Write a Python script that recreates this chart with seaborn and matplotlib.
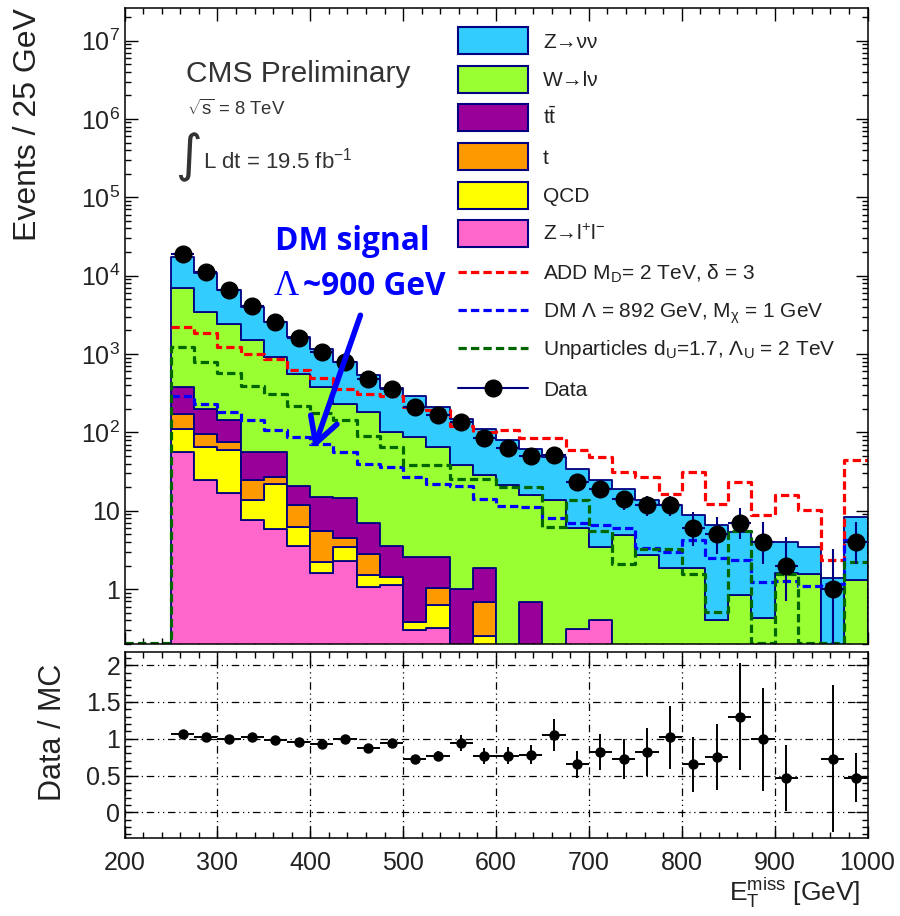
import numpy as np
import pandas as pd
import matplotlib
matplotlib.use('Agg')
import matplotlib.pyplot as plt
import matplotlib.font_manager as fm
from matplotlib.patches import Rectangle
from matplotlib.lines import Line2D
from matplotlib.ticker import MultipleLocator, LogLocator, FixedLocator, NullFormatter
import seaborn as sns

sns.set_theme(style='ticks')
names = {f.name for f in fm.fontManager.ttflist}
FONT = 'Liberation Sans' if 'Liberation Sans' in names else 'DejaVu Sans'
plt.rcParams['font.family'] = [FONT, 'DejaVu Sans']
plt.rcParams['mathtext.fontset'] = 'custom'
plt.rcParams['mathtext.rm'] = FONT
plt.rcParams['mathtext.it'] = FONT + ':italic'
plt.rcParams['mathtext.bf'] = FONT + ':bold'

# ---- data (25 GeV bins, 250 - 1000 GeV) ----
centers = np.arange(262.5, 1000, 25)

znn   = [10600, 7400, 4150, 2480, 1680, 1090, 770, 568, 357, 269, 202, 145, 112, 83.6, 59.5,
         46.2, 34.3, 28.5, 21.2, 13.9, 11.0, 10.2, 7.0, 6.1, 4.6, 3.6, 2.4, 1.95, 1.38, 7.0]
wln   = [6520, 3240, 2310, 1444, 862, 542, 365, 218, 176, 97.4, 85.4, 62.4, 37, 26.6, 21.5,
         15.1, 13.7, 5.8, 3.0, 4.9, 2.7, 1.84, 1.84, 0.40, 0.84, 0.43, 1.6, 1.55, 0, 1.3]
ttbar = [205, 104, 68, 31.4, 29, 9.2, 9.4, 9.9, 4.05, 2.17, 2.22, 1.57, 1.0, 1.16, 0,
         0.69, 0, 0, 0, 0, 0, 0, 0, 0, 0, 0, 0, 0, 0, 0]
stop  = [62, 31, 15, 10.7, 4.8, 5.6, 3.4, 1.0, 1.35, 0, 0, 0.40, 0, 0.44, 0,
         0, 0, 0, 0, 0, 0, 0, 0, 0, 0, 0, 0, 0, 0, 0]
qcd   = [55, 40, 43, 6.3, 16.3, 2.6, 0.6, 1.2, 0.43, 0.31, 0.08, 0.31, 0, 0.25, 0,
         0, 0, 0, 0, 0, 0, 0, 0, 0, 0, 0, 0, 0, 0, 0]
zll   = [56, 24.5, 17, 7.6, 5.9, 3.6, 1.6, 2.3, 1.07, 1.12, 0.30, 0.32, 0, 0, 0,
         0, 0, 0.31, 0.41, 0, 0, 0, 0, 0, 0, 0, 0, 0, 0, 0]

sig_add = [2240, 1830, 1220, 990, 870, 620, 500, 362, 307, 290, 211, 192, 120, 101, 107,
           86, 86, 59, 49, 31, 27, 16.6, 31, 12.4, 23.4, 8.8, 15.8, 10.2, 2.34, 44]
sig_dm  = [296, 233, 183, 143, 107, 88, 72, 56, 40, 36, 27, 22, 21, 14.3, 11.4,
           11.2, 8.0, 6.9, 6.5, 6.0, 3.4, 3.0, 4.2, 2.5, 2.34, 1.24, 1.27, 1.1, 1.15, 4.2]
# unparticles histogram starts at 200 GeV (empty bins sit on the axis floor)
centers_unp = np.arange(212.5, 1000, 25)
sig_unp = [0.205, 0.205, 1230, 790, 570, 395, 310, 215, 175, 145, 90, 65, 38, 38, 25.8, 25.8,
           20, 20, 6.2, 13.7, 5.6, 2.1, 3.3, 3.3, 1.58, 0.51, 5.5, 0.205, 1.58, 0.205, 0.205, 2.2]

data = [18800, 11100, 6650, 4070, 2570, 1580, 1065, 795, 487, 362, 211, 166, 136, 84, 63,
        50, 51, 23, 19, 14, 12, 12, 6, 5, 7, 4, 2, np.nan, 1, 4]
data_lo = [137, 105, 82, 64, 51, 40, 33, 28, 22, 19, 14.5, 12.9, 11.7, 9.2, 7.9,
           7.1, 7.1, 4.8, 4.4, 3.7, 3.5, 3.5, 2.4, 2.2, 2.6, 1.9, 1.3, 0, 0.8, 1.9]
data_hi = [137, 105, 82, 64, 51, 40, 33, 28, 22, 19, 14.5, 12.9, 11.7, 9.2, 7.9,
           7.1, 7.1, 4.8, 4.4, 3.7, 3.5, 3.5, 3.6, 3.4, 3.8, 3.2, 2.6, 0, 2.3, 3.2]

ratio = [1.07, 1.02, 1.0, 1.02, 0.98, 0.95, 0.93, 1.0, 0.88, 0.94, 0.72, 0.77, 0.94, 0.77, 0.77,
         0.78, 1.05, 0.65, 0.82, 0.72, 0.82, 1.02, 0.65, 0.75, 1.3, 0.99, 0.47, np.nan, 0.73, 0.47]
ratio_err = [0.02, 0.02, 0.02, 0.02, 0.025, 0.03, 0.035, 0.04, 0.045, 0.055, 0.06, 0.07, 0.11, 0.11, 0.12,
             0.13, 0.22, 0.19, 0.25, 0.27, 0.32, 0.43, 0.37, 0.45, 0.73, 0.7, 0.45, np.nan, 1.0, 0.33]

procs = ['Z→νν', 'W→lν', 'tt', 't', 'QCD', 'Z→ll']
colors = ['#33ccff', '#99ff33', '#990099', '#ff9900', '#ffff00', '#ff66cc']
proc_labels = ['Z→νν', 'W→lν', r'$\mathrm{t}\bar{\mathrm{t}}$', 't', 'QCD', r'Z→l$^{+}$l$^{-}$']
sig_labels = [r'ADD M$_{\mathrm{D}}$= 2 TeV, δ = 3',
              r'DM Λ = 892 GeV, M$_{\mathrm{χ}}$ = 1 GeV',
              r'Unparticles d$_{\mathrm{U}}$=1.7, Λ$_{\mathrm{U}}$ = 2 TeV']
sig_colors = ['#ff0000', '#0000ff', '#006600']
OUTLINE = '#000080'
TXT = '#222222'

df = pd.DataFrame({
    'met': np.tile(centers, len(procs)),
    'events': np.concatenate([znn, wln, ttbar, stop, qcd, zll]),
    'proc': np.repeat(procs, len(centers)),
})

W, H = 900, 916
def fx(x): return x / W
def fy(y): return 1 - y / H

fig = plt.figure(figsize=(9, 9.16), dpi=100)
ax = fig.add_axes([fx(124.5), fy(644), fx(867.5) - fx(124.5), fy(8) - fy(644)])
ax2 = fig.add_axes([fx(124.5), fy(838), fx(867.5) - fx(124.5), fy(652) - fy(838)])

# stacked backgrounds (first hue level ends up on top)
sns.histplot(df, x='met', weights='events', hue='proc', hue_order=procs,
             palette=dict(zip(procs, colors)), binwidth=25, binrange=(250, 1000),
             multiple='stack', element='step', alpha=1, edgecolor=OUTLINE,
             linewidth=1.3, legend=False, ax=ax)

dash = (0, (2.6, 1.3))
sns.histplot(x=centers, weights=sig_add, binwidth=25, binrange=(250, 1000), element='step',
             fill=False, color=sig_colors[0], linestyle=dash, linewidth=2.3, ax=ax)
sns.histplot(x=centers, weights=sig_dm, binwidth=25, binrange=(250, 1000), element='step',
             fill=False, color=sig_colors[1], linestyle=dash, linewidth=2.3, ax=ax)
sns.histplot(x=centers_unp, weights=sig_unp, binwidth=25, binrange=(200, 1000), element='step',
             fill=False, color=sig_colors[2], linestyle=dash, linewidth=2.3, ax=ax)

ax.errorbar(centers, data, yerr=[data_lo, data_hi], xerr=12.5, fmt='o', ms=12,
            mfc='black', mec='black', ecolor=OUTLINE, elinewidth=1.5, capsize=0, zorder=10)

ax.set_yscale('log')
ax.set_xlim(200, 1000)
ax.set_ylim(0.2, 2.6e7)
ax.set_xlabel('')
ax.set_ylabel('Events / 25 GeV', fontsize=23, loc='top', color=TXT)
ax.yaxis.set_label_coords(-0.11, 1.0)

ax.xaxis.set_major_locator(MultipleLocator(100))
ax.xaxis.set_minor_locator(MultipleLocator(20))
ax.tick_params(axis='x', labelbottom=False)
ax.yaxis.set_major_locator(FixedLocator([10.0 ** k for k in range(0, 8)]))
ax.set_yticklabels(['1', '10'] + [r'$\mathrm{10^{%d}}$' % k for k in range(2, 8)])
ax.yaxis.set_minor_locator(LogLocator(base=10, subs=np.arange(2, 10), numticks=100))
ax.yaxis.set_minor_formatter(NullFormatter())

for a in (ax, ax2):
    a.tick_params(which='both', direction='in', top=True, right=True, width=1.0,
                  colors='black', labelcolor=TXT, labelsize=18)
    a.tick_params(which='major', length=9)
    a.tick_params(which='minor', length=4.5)
    a.tick_params(axis='y', pad=3)
    for s in a.spines.values():
        s.set_linewidth(1.1)
        s.set_color('black')

# legend, drawn row by row like the ROOT legend
rows_y = [40, 79, 117, 156, 195, 233, 272, 310, 348, 388]
for i, lab in enumerate(proc_labels + sig_labels + ['Data']):
    yc = rows_y[i]
    if i < 6:
        fig.add_artist(Rectangle((fx(458), fy(yc + 13.5)), fx(70), 27 / H, facecolor=colors[i],
                                 edgecolor=OUTLINE, linewidth=1.5, transform=fig.transFigure))
    elif i < 9:
        fig.add_artist(Line2D([fx(458), fx(528)], [fy(yc), fy(yc)], color=sig_colors[i - 6],
                              linestyle=dash, linewidth=2.3, transform=fig.transFigure))
    else:
        fig.add_artist(Line2D([fx(458), fx(528)], [fy(yc), fy(yc)], color=OUTLINE, linewidth=1.5,
                              transform=fig.transFigure))
        fig.add_artist(Line2D([fx(493)], [fy(yc)], marker='o', ms=12, mfc='black', mec='black',
                              transform=fig.transFigure))
    fig.text(fx(543), fy(yc + 7.5), lab, fontsize=15, color=TXT, va='baseline')

# header texts
fig.text(fx(186), fy(81.7), 'CMS Preliminary', fontsize=21.5, color='#333333', va='baseline')
fig.text(fx(187), fy(115), r'$\sqrt{\mathrm{s}}$ = 8 TeV', fontsize=13.3, color='#333333', va='baseline')
fig.text(fx(175), fy(157), '∫', fontsize=37, color='#333333', va='center', family=['DejaVu Sans'])
fig.text(fx(203), fy(168.3), r'L dt = 19.5 fb$^{\mathrm{-1}}$', fontsize=16, color='#333333', va='baseline')

# DM signal annotation
fig.text(fx(275), fy(250), 'DM signal', fontsize=22.8, fontweight='bold', color='#0000ff',
         va='baseline', family=['Open Sans', 'DejaVu Sans'])
fig.text(fx(274), fy(295), 'Λ', fontsize=25, color='#0000ff', va='baseline',
         family=['Liberation Serif', 'DejaVu Serif'])
fig.text(fx(303), fy(295), '~900 GeV', fontsize=22.8, fontweight='bold', color='#0000ff',
         va='baseline', family=['Open Sans', 'DejaVu Sans'])
ax.annotate('', xy=(403.7, 62), xytext=(454, 3125),
            arrowprops=dict(arrowstyle='->,head_length=0.9,head_width=0.5', color='#0000ff',
                            lw=4, mutation_scale=20, shrinkA=0, shrinkB=0), zorder=12)

# ratio panel
ax2.errorbar(centers, ratio, yerr=ratio_err, xerr=12.5, fmt='o', ms=6.5, color='black',
             elinewidth=1.4, capsize=0, zorder=5)
ax2.set_xlim(200, 1000)
ax2.set_ylim(-0.35, 2.18)
ax2.xaxis.set_major_locator(MultipleLocator(100))
ax2.xaxis.set_minor_locator(MultipleLocator(20))
ax2.yaxis.set_major_locator(FixedLocator([0, 0.5, 1, 1.5, 2]))
ax2.set_yticklabels(['0', '0.5', '1', '1.5', '2'])
ax2.yaxis.set_minor_locator(MultipleLocator(0.1))
ax2.tick_params(axis='x', pad=9)
ax2.grid(which='major', color='black', linewidth=0.9, linestyle=(0, (6, 3, 1, 3, 1, 3)))
ax2.set_ylabel('Data / MC', fontsize=22, color=TXT)
ax2.yaxis.set_label_coords(-0.076, 0.57)
ax2.set_xlabel(r'$\mathrm{E_{T}^{miss}}$ [GeV]', fontsize=19, loc='right', color=TXT)
ax2.xaxis.set_label_coords(0.99, -0.205)

fig.savefig('out.png', dpi=100)
